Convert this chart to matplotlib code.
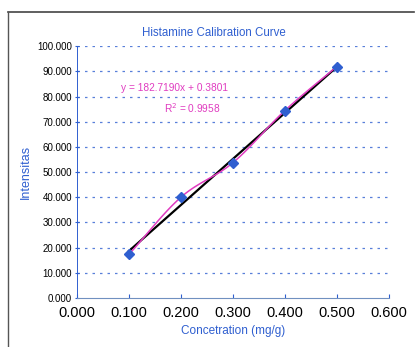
import numpy as np
import matplotlib.pyplot as plt
import matplotlib as mpl

plt.rcParams["font.family"] = ["Liberation Sans", "DejaVu Sans"]

conc = [0.1, 0.2, 0.3, 0.4, 0.5]
intens = [17.3, 40.0, 53.7, 74.4, 91.9]
slope = 182.7190
intercept = 0.3801
r2 = 0.9958
xticks = [0.0, 0.1, 0.2, 0.3, 0.4, 0.5, 0.6]
yticks = [0, 10, 20, 30, 40, 50, 60, 70, 80, 90, 100]

blue = "#2f5fd0"
pink = "#e03cc0"


def smooth(x, y, n=30):
    # catmull-rom style curve like excel's smoothed line
    x = np.asarray(x, float)
    y = np.asarray(y, float)
    px = np.concatenate([[2 * x[0] - x[1]], x, [2 * x[-1] - x[-2]]])
    py = np.concatenate([[2 * y[0] - y[1]], y, [2 * y[-1] - y[-2]]])
    t = np.linspace(0, 1, n)
    xs, ys = [], []
    for i in range(1, len(px) - 2):
        for p, out in ((px, xs), (py, ys)):
            p0, p1, p2, p3 = p[i - 1], p[i], p[i + 1], p[i + 2]
            out.extend(0.5 * (2 * p1 + (-p0 + p2) * t
                              + (2 * p0 - 5 * p1 + 4 * p2 - p3) * t ** 2
                              + (-p0 + 3 * p1 - 3 * p2 + p3) * t ** 3))
    return xs, ys


fig = plt.figure(figsize=(4.18, 3.47), dpi=100)
ax = fig.add_axes([0.184, 0.141, 0.746, 0.726])

ax.set_xlim(0, 0.6)
ax.set_ylim(0, 100)
ax.set_yticks(yticks)
ax.set_yticklabels(["%.3f" % v for v in yticks], fontsize=7)
ax.set_xticks(xticks)
ax.set_xticklabels(["%.3f" % v for v in xticks], fontsize=10.5)
ax.tick_params(axis="y", length=3, direction="inout", color=blue, pad=2)
ax.tick_params(axis="x", length=3, direction="in", color=blue, pad=6)

for y in yticks[1:]:
    ax.axhline(y, color=blue, lw=0.9, ls=(0, (2, 4)), alpha=0.8, zorder=0)

ax.spines[["right", "top"]].set_visible(False)
ax.spines["left"].set_color(blue)
ax.spines["left"].set_linewidth(0.7)
ax.spines["bottom"].set_color("#7090c0")
ax.spines["bottom"].set_linewidth(0.8)
ax.spines["bottom"].set_linestyle((0, (3, 1)))

xf = np.array([conc[0], conc[-1]])
ax.plot(xf, slope * xf + intercept, color="k", lw=1.6, zorder=3)
sx, sy = smooth(conc, intens)
ax.plot(sx, sy, color=pink, lw=1.1, zorder=4)
ax.plot(conc, intens, ls="none", marker="D", markersize=5, color=blue, zorder=5)

ax.text(0.188, 83.5, "y = %.4fx + %.4f" % (slope, intercept), color=pink,
        fontsize=7.3, ha="center", va="center")
ax.text(0.221, 75.5, "R$^2$ = %.4f" % r2, color=pink, fontsize=7.3,
        ha="center", va="center")

fig.text(214 / 418, 1 - 33 / 347, "Histamine Calibration Curve", color=blue,
         fontsize=8.3, ha="center", va="center")
ax.set_xlabel("Concetration (mg/g)", color=blue, fontsize=8.5, labelpad=3)
ax.set_ylabel("Intensitas", color=blue, fontsize=9, labelpad=4)

# outer chart frame (top and left edges visible in scan)
fig.add_artist(mpl.lines.Line2D([8 / 418, 414 / 418], [1 - 12 / 347, 1 - 12 / 347],
                                color="#444444", lw=1.2))
fig.add_artist(mpl.lines.Line2D([8 / 418, 8 / 418], [0, 1 - 12 / 347],
                                color="#555555", lw=1.0))

plt.savefig("out.png", dpi=100)
plt.close()
